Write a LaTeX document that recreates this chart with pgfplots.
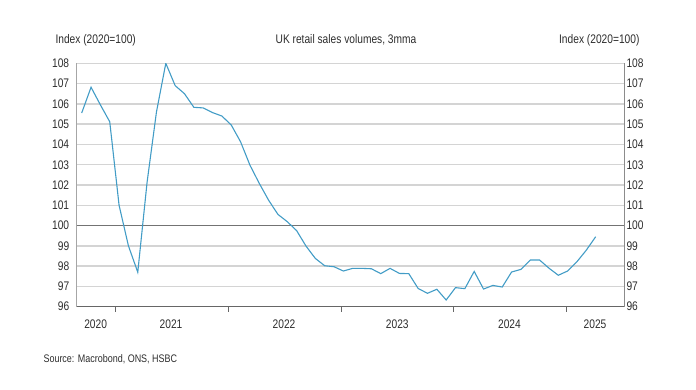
\documentclass[border=0pt]{standalone}
\usepackage{pgfplots}
\pgfplotsset{compat=1.18}
\usepackage{fontspec}
\setmainfont{Liberation Sans}[FakeStretch=0.82]
\definecolor{serie}{RGB}{66,156,198}
\definecolor{txt}{RGB}{45,45,45}
\definecolor{gridc}{RGB}{212,212,212}
\pgfplotstableread{
x y
0 105.55
1 106.82
2 105.95
3 105.12
4 101.0
5 99.0
6 97.7
7 102.15
8 105.6
9 108.0
10 106.9
11 106.5
12 105.83
13 105.8
14 105.57
15 105.4
16 104.96
17 104.13
18 102.98
19 102.08
20 101.25
21 100.55
22 100.19
23 99.75
24 98.99
25 98.38
26 98.02
27 97.97
28 97.76
29 97.89
30 97.89
31 97.87
32 97.63
33 97.89
34 97.64
35 97.63
36 96.9
37 96.66
38 96.86
39 96.33
40 96.94
41 96.89
42 97.74
43 96.87
44 97.05
45 96.97
46 97.71
47 97.84
48 98.3
49 98.3
50 97.9
51 97.55
52 97.76
53 98.22
54 98.79
55 99.45
}\sales
\begin{document}
\begin{tikzpicture}
\path (0,0) rectangle (696bp,390bp);
\pgfplotsset{common/.style={
  scale only axis, width=547.3bp, height=243.4bp,
  at={(76.7bp,83.3bp)}, anchor=south west,
  xmin=-0.535, xmax=58.03, ymin=96, ymax=108,
  ytick={96,97,...,108},
  font=\fontsize{12.5}{14}\selectfont,
  /pgf/number format/assume math mode=true,
  tick label style={text=txt},
  ytick style={draw=none},
}}
\begin{axis}[common,
  axis x line*=bottom, axis y line*=left,
  x axis line style={draw=black!60, line width=0.8bp},
  y axis line style={draw=black!35, line width=0.6bp},
  xtick={3.56,15.65,27.75,39.8,51.9}, xticklabels={},
  xtick style={draw=black!60, line width=0.8bp},
  tick align=outside, major tick length=5bp,
  extra x ticks={1.49,9.56,21.65,33.77,45.77,54.93},
  extra x tick labels={2020,2021,2022,2023,2024,2025},
  extra x tick style={major tick length=0pt, xticklabel style={yshift=-10bp}},
  ymajorgrids, grid style={draw=gridc, line width=1.5bp},
  extra y ticks={100}, extra y tick labels={},
  extra y tick style={grid style={draw=black!55, line width=0.9bp}},
  yticklabel style={xshift=1bp},
]
\addplot[serie, line width=1.1bp, mark=none] table[x=x,y=y]{\sales};
\end{axis}
\begin{axis}[common,
  axis x line=none, axis y line*=right,
  y axis line style={draw=black!45, line width=0.6bp},
  yticklabel style={anchor=west, xshift=-1bp},
]
\end{axis}
\node[anchor=base west, text=txt, font=\fontsize{12.5}{14}\selectfont] at (52bp,346bp) {Index (2020=100)};
\node[anchor=base, text=txt, font=\fontsize{12.5}{14}\selectfont] at (346bp,346bp) {UK retail sales volumes, 3mma};
\node[anchor=base east, text=txt, font=\fontsize{12.5}{14}\selectfont] at (643bp,346bp) {Index (2020=100)};
\node[anchor=base west, text=txt, font=\fontsize{11}{13}\selectfont] at (40bp,28bp) {Source: Macrobond, ONS, HSBC};
\end{tikzpicture}
\end{document}
